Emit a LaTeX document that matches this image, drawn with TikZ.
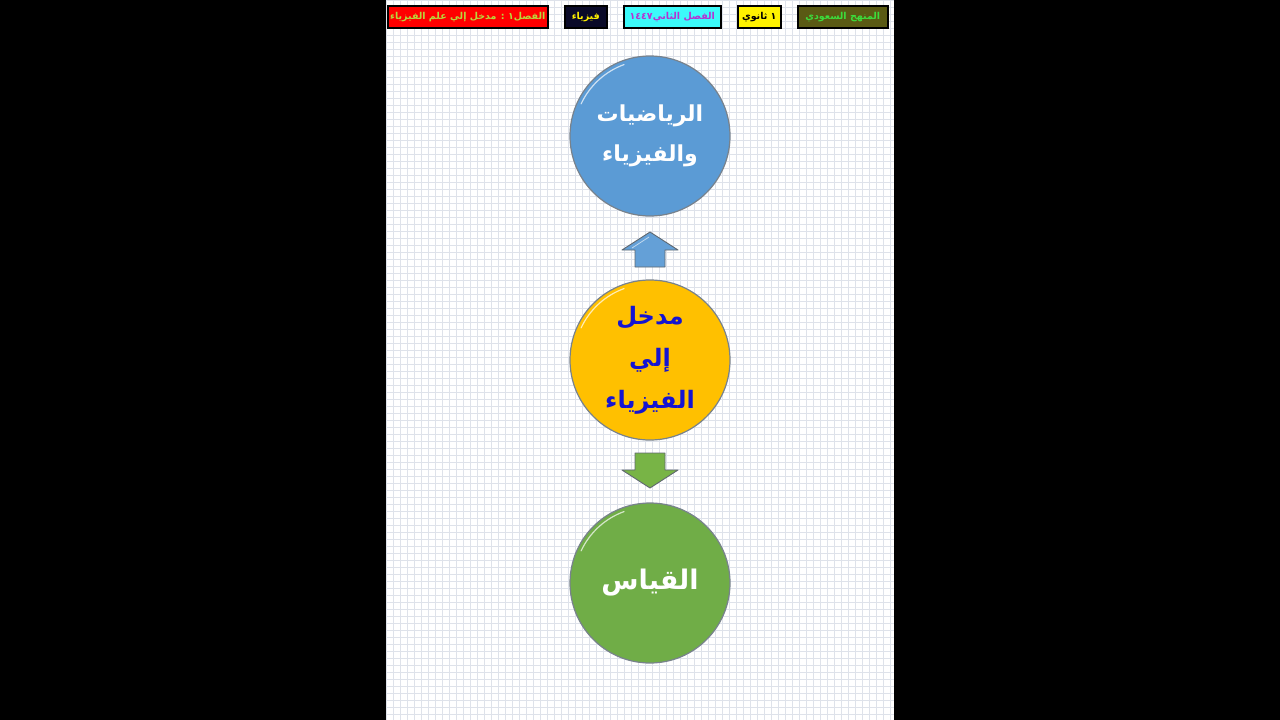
\documentclass[tikz,border=0pt]{standalone}
\usepackage{fontspec}
\usetikzlibrary{calc}
\TeXXeTstate=1
\newfontfamily\arabicfont[Script=Arabic]{DejaVu Sans}
\definecolor{gridc}{RGB}{222,226,234}
\definecolor{cblue}{RGB}{91,155,213}
\definecolor{cgold}{RGB}{255,192,0}
\definecolor{cgreen}{RGB}{112,173,71}
\definecolor{rimc}{RGB}{120,130,140}
\definecolor{ttblue}{RGB}{20,20,210}
\definecolor{lblA}{RGB}{185,215,60}
\definecolor{navy}{RGB}{10,10,40}
\definecolor{cyanb}{RGB}{60,250,250}
\definecolor{purp}{RGB}{180,50,210}
\definecolor{olive}{RGB}{90,90,20}
\definecolor{brgreen}{RGB}{60,220,60}
\definecolor{arrblue}{RGB}{100,160,215}
\definecolor{arrgreen}{RGB}{120,180,70}
\tikzset{
  tag/.style={draw=black,line width=1.6pt,inner sep=0pt,anchor=north west,font=\arabicfont\bfseries\fontsize{9.5}{11}\selectfont},
  bigc/.style={circle,minimum size=160pt,inner sep=0pt,draw=rimc,line width=1.2pt,align=center},
  arr/.style={draw=rimc!80!black,line width=0.9pt,line join=round},
  shine/.style={white,opacity=0.7,line width=1.2pt,line cap=round}
}
\begin{document}
\begin{tikzpicture}[x=1pt,y=-1pt]
\useasboundingbox (0,0) rectangle (1280,720);
\fill[black] (0,0) rectangle (1280,720);
\fill[white] (386,0) rectangle (894,720);
\begin{scope}
\clip (386,0) rectangle (894,720);
\foreach \i in {0,...,73} {\draw[gridc,line width=0.5pt] ({386+7*\i},0) -- ({386+7*\i},720);}
\foreach \i in {0,...,103} {\draw[gridc,line width=0.5pt] (386,{7*\i}) -- (894,{7*\i});}
\end{scope}
% top labels
\node[tag,fill=red,text=lblA,minimum width=160pt,minimum height=22pt] (t1) at (387,5) {\beginR الفصل\beginL ١\endL{} : مدخل إلي علم الفيزياء\endR};
\node[tag,fill=navy,text=yellow,minimum width=42pt,minimum height=22pt] (t2) at (564,5) {\beginR فيزياء\endR};
\node[tag,fill=cyanb,text=purp,minimum width=97pt,minimum height=22pt] (t3) at (623,5) {\beginR الفصل الثاني\beginL ١٤٤٧\endL\endR};
\node[tag,fill=yellow,text=black,minimum width=43pt,minimum height=22pt] (t4) at (737,5) {\beginR ١ ثانوي\endR};
\node[tag,fill=olive,text=brgreen,minimum width=90pt,minimum height=22pt] (t5) at (797,5) {\beginR المنهج السعودي\endR};
% circles
\node[bigc,fill=cblue,text=white,font=\arabicfont\bfseries\fontsize{22}{40}\selectfont] (c1) at (650,136) {\beginR الرياضيات\endR\\\beginR والفيزياء\endR};
\node[bigc,fill=cgold,text=ttblue,font=\arabicfont\bfseries\fontsize{24}{42}\selectfont] (c2) at (650,360) {\beginR مدخل\endR\\\beginR إلي\endR\\\beginR الفيزياء\endR};
\node[bigc,fill=cgreen,text=white,font=\arabicfont\bfseries\fontsize{27}{40}\selectfont] (c3) at (650,583) {\beginR القياس\endR};
% highlights (y axis points down, so negative angles are upper side)
\foreach \c in {c1,c2,c3} {
  \draw[shine] (\c.center) ++(-155:76) arc[start angle=-155,end angle=-110,radius=76];
}
% arrows
\coordinate (ua) at (650,232);
\coordinate (da) at (650,488);
\draw[arr,fill=arrblue] (ua) -- ++(28,18) -- ++(-13,0) -- ++(0,17) -- ++(-30,0) -- ++(0,-17) -- ++(-13,0) -- cycle;
\draw[white,opacity=0.6,line width=0.8pt] ($(ua)+(-1,5)$) -- ++(-17,11);
\draw[arr,fill=arrgreen] (da) -- ++(28,-18) -- ++(-13,0) -- ++(0,-17) -- ++(-30,0) -- ++(0,17) -- ++(-13,0) -- cycle;
\end{tikzpicture}
\end{document}
